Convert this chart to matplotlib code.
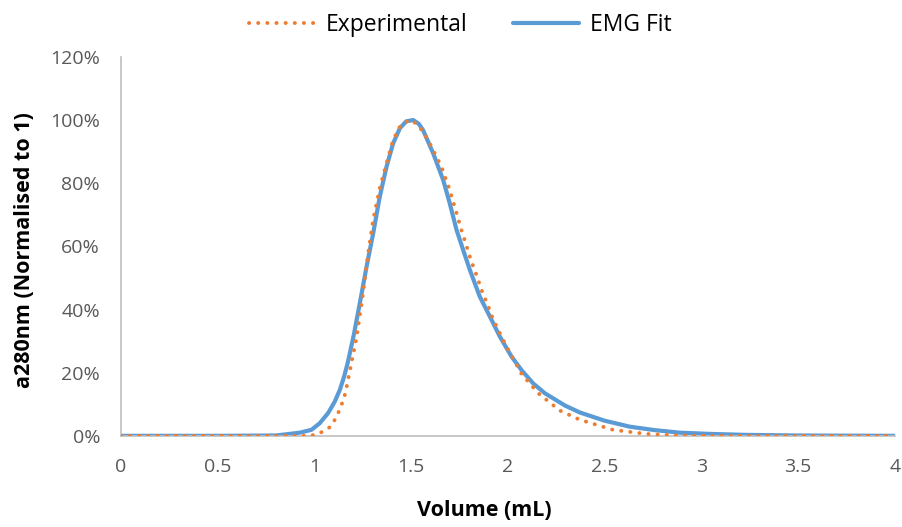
import matplotlib.pyplot as plt
from matplotlib.ticker import FuncFormatter

# values (volume in mL, absorbance in % of max)
exp_vol = [0.0, 0.5, 0.9, 0.977, 1.020, 1.054, 1.084, 1.106, 1.123, 1.140, 1.154, 1.163,
           1.172, 1.180, 1.189, 1.197, 1.206, 1.213, 1.221, 1.252, 1.278, 1.304, 1.338,
           1.373, 1.407, 1.442, 1.476, 1.500, 1.537, 1.588, 1.657, 1.700, 1.735, 1.760,
           1.786, 1.812, 1.838, 1.864, 1.895, 1.924, 1.959, 1.993, 2.035, 2.071, 2.157,
           2.226, 2.269, 2.372, 2.544, 2.717, 2.889, 3.1, 3.5, 4.0]
exp_abs = [0.0, 0.0, 0.0, 0.0, 0.6, 1.7, 2.9, 5.1, 7.2, 9.8, 11.9, 14.6,
           16.9, 19.6, 22.2, 24.9, 27.4, 29.5, 32.3, 45.2, 57.8, 68.4, 78.4,
           86.3, 93.7, 97.9, 99.5, 100.0, 98.4, 93.7, 85.2, 77.8, 70.5, 65.2,
           60.2, 55.2, 50.9, 46.2, 41.6, 36.9, 32.5, 28.3, 23.6, 19.6, 13.5,
           10.1, 8.0, 5.1, 1.9, 0.6, 0.1, 0.0, 0.0, 0.0]

fit_vol = [0.0, 0.5, 0.8, 0.925, 0.985, 1.028, 1.071, 1.106, 1.132, 1.154, 1.172, 1.187,
           1.204, 1.235, 1.270, 1.304, 1.338, 1.373, 1.407, 1.442, 1.475, 1.511, 1.540,
           1.562, 1.614, 1.666, 1.700, 1.735, 1.769, 1.804, 1.855, 1.907, 1.959, 2.019,
           2.071, 2.131, 2.191, 2.295, 2.372, 2.500, 2.630, 2.760, 2.889, 3.050, 3.230,
           3.5, 4.0]
fit_abs = [0.0, 0.0, 0.1, 1.0, 1.9, 4.0, 7.2, 10.9, 14.6, 18.8, 23.0, 27.2,
           32.0, 42.0, 53.6, 64.1, 75.7, 85.2, 92.6, 97.4, 99.6, 100.0, 98.8,
           96.8, 89.5, 81.0, 73.6, 65.2, 58.9, 52.5, 44.1, 37.8, 31.4, 25.1,
           20.8, 16.6, 13.5, 9.6, 7.4, 4.8, 2.9, 1.8, 1.0, 0.6, 0.3,
           0.1, 0.0]

plt.rcParams['font.family'] = ['Open Sans', 'DejaVu Sans']

fig = plt.figure(figsize=(9.02, 5.27), dpi=100)
ax = fig.add_axes([0.134, 0.173, 0.858, 0.719])

ax.plot(exp_vol, exp_abs, color='#ED7D31', lw=2.8, linestyle=(0, (0.05, 2.3)),
        dash_capstyle='round', label='Experimental', zorder=3)
ax.plot(fit_vol, fit_abs, color='#5B9BD5', lw=3.0, label='EMG Fit', zorder=2,
        solid_capstyle='round', solid_joinstyle='round')

ax.set_xlim(0, 4)
ax.set_ylim(0, 120)
ax.set_xticks([0, 0.5, 1, 1.5, 2, 2.5, 3, 3.5, 4])
ax.set_xticklabels(['0', '0.5', '1', '1.5', '2', '2.5', '3', '3.5', '4'])
ax.set_yticks(range(0, 121, 20))
ax.yaxis.set_major_formatter(FuncFormatter(lambda v, p: f"{int(v)}%"))
ax.tick_params(length=0, labelsize=14, labelcolor='#595959')
ax.tick_params(axis='y', pad=15)
ax.tick_params(axis='x', pad=16)

for s in ['top', 'right']:
    ax.spines[s].set_visible(False)
for s in ['left', 'bottom']:
    ax.spines[s].set_color('#BFBFBF')
    ax.spines[s].set_linewidth(1.2)

ax.set_xlabel('Volume (mL)', fontsize=15.5, fontweight='bold', va='center')
ax.xaxis.set_label_coords(0.469, -0.198)
ax.set_ylabel('a280nm (Normalised to 1)', fontsize=15.5, fontweight='bold', va='center')
ax.yaxis.set_label_coords(-0.124, 0.491)

fig.legend(loc='upper center', bbox_to_anchor=(0.51, 1.015), ncol=2, frameon=False,
           fontsize=16.5, handlelength=2.9, columnspacing=2.0, handletextpad=0.45)

fig.savefig('out.png', dpi=100)
